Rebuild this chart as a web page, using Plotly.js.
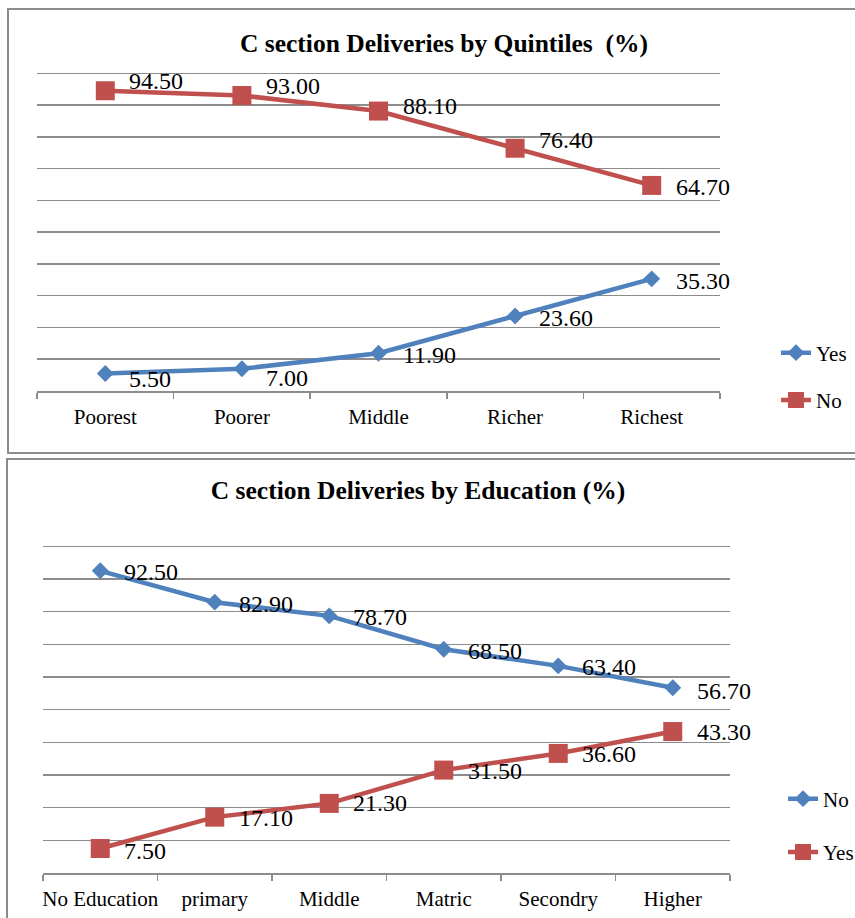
<!DOCTYPE html>
<html>
<head>
<meta charset="utf-8">
<script src="https://cdn.plot.ly/plotly-3.0.1.min.js"></script>
<style>
  html, body { margin: 0; padding: 0; width: 855px; height: 918px; overflow: hidden; background: #fff; }
  .frame { position: absolute; border: 2px solid #8c8c8c; box-sizing: border-box; }
  .plot { position: absolute; left: 0; width: 855px; }
</style>
</head>
<body>
<div class="frame" style="left:7px; top:8px; width:900px; height:446px;"></div>
<div class="frame" style="left:6px; top:458px; width:900px; height:500px;"></div>
<div id="chart1" class="plot" style="top:0; height:455px;"></div>
<div id="chart2" class="plot" style="top:455px; height:463px;"></div>
<script>
// ---------- Data: chart 1 (by quintiles) ----------
const quintileCategories = ["Poorest", "Poorer", "Middle", "Richer", "Richest"];
const quintileYes = [5.50, 7.00, 11.90, 23.60, 35.30];
const quintileNo = [94.50, 93.00, 88.10, 76.40, 64.70];
const quintileTitle = "C section Deliveries by Quintiles\u00a0\u00a0(%)";

// ---------- Data: chart 2 (by education) ----------
const educationCategories = ["No Education", "primary", "Middle", "Matric", "Secondry", "Higher"];
const educationNo = [92.50, 82.90, 78.70, 68.50, 63.40, 56.70];
const educationYes = [7.50, 17.10, 21.30, 31.50, 36.60, 43.30];
const educationTitle = "C section Deliveries by Education (%)";

// ---------- Styles ----------
const BLUE = "#4F81BD";
const RED = "#C0504D";
const GRID = "#8c8c8c";
const SERIF = "'Liberation Serif', 'Times New Roman', serif";

// label vertical nudges (style only, in px, positive = up)
const nudgeQYes = [-5, -9, -2, -2, -2];
const nudgeQNo = [10, 10, 5, 8, -2];
const nudgeENo = [-1, -2, -1, -2, -1, -3];
const nudgeEYes = [-2, -1, 0, -1, -1, 0];

function lineTrace(name, cats, vals, color, symbol, size, group) {
  return {
    type: "scatter", mode: "lines+markers", name: name,
    x: cats, y: vals, legendgroup: group,
    line: { color: color, width: 4.5 },
    marker: { color: color, symbol: symbol, size: size },
    hoverinfo: "skip"
  };
}

function labels(cats, vals, nudges) {
  return cats.map((c, i) => ({
    x: c, y: vals[i], xref: "x", yref: "y",
    text: vals[i].toFixed(2), showarrow: false,
    xanchor: "left", yanchor: "middle",
    xshift: 22, yshift: nudges[i],
    font: { family: SERIF, size: 24, color: "#000" }
  }));
}

function baseLayout(title, nCats, titleX, titleY, margin, legendX, legendY, legendGap) {
  return {
    width: 855,
    height: margin.h,
    paper_bgcolor: "rgba(0,0,0,0)",
    plot_bgcolor: "rgba(0,0,0,0)",
    margin: { l: margin.l, r: margin.r, t: margin.t, b: margin.b },
    title: {
      text: "<b>" + title + "</b>",
      font: { family: SERIF, size: 25.5, color: "#000" },
      xref: "container", yref: "container",
      x: titleX, y: titleY, xanchor: "center", yanchor: "middle"
    },
    xaxis: {
      type: "category",
      range: [-0.5, nCats - 0.5],
      tickson: "boundaries",
      tickangle: 0,
      ticks: "outside", ticklen: 6, tickwidth: 1.5, tickcolor: GRID,
      showline: true, linecolor: GRID, linewidth: 1.5,
      showgrid: false, zeroline: false,
      ticklabelstandoff: 6,
      tickfont: { family: SERIF, size: 21, color: "#000" }
    },
    yaxis: {
      range: [0, 100.4], dtick: 10, tick0: 0,
      showticklabels: false, ticks: "",
      showgrid: true, gridcolor: GRID, gridwidth: 1.5,
      zeroline: false, showline: false
    },
    showlegend: true,
    legend: {
      xref: "container", yref: "container",
      x: legendX, y: legendY, xanchor: "left", yanchor: "middle",
      traceorder: "grouped", tracegroupgap: legendGap,
      font: { family: SERIF, size: 21, color: "#000" },
      bgcolor: "rgba(0,0,0,0)", itemwidth: 30
    }
  };
}

// ---------- Chart 1 ----------
const data1 = [
  lineTrace("Yes", quintileCategories, quintileYes, BLUE, "diamond", 13, "a"),
  lineTrace("No", quintileCategories, quintileNo, RED, "square", 19, "b")
];
const layout1 = baseLayout(quintileTitle, quintileCategories.length, 444 / 855, 1 - 43 / 455,
  { l: 37, r: 135, t: 72, b: 64, h: 455 }, 776 / 855, 1 - 376.5 / 455, 17);
layout1.annotations = labels(quintileCategories, quintileYes, nudgeQYes)
  .concat(labels(quintileCategories, quintileNo, nudgeQNo));
Plotly.newPlot("chart1", data1, layout1, { displayModeBar: false, staticPlot: true });

// ---------- Chart 2 ----------
const data2 = [
  lineTrace("No", educationCategories, educationNo, BLUE, "diamond", 13, "a"),
  lineTrace("Yes", educationCategories, educationYes, RED, "square", 19, "b")
];
const layout2 = baseLayout(educationTitle, educationCategories.length, 418 / 855, 1 - 35 / 463,
  { l: 43, r: 125, t: 90, b: 45, h: 463 }, 783 / 855, 1 - 370.5 / 463, 23);
layout2.annotations = labels(educationCategories, educationNo, nudgeENo)
  .concat(labels(educationCategories, educationYes, nudgeEYes));
Plotly.newPlot("chart2", data2, layout2, { displayModeBar: false, staticPlot: true });
</script>
</body>
</html>
